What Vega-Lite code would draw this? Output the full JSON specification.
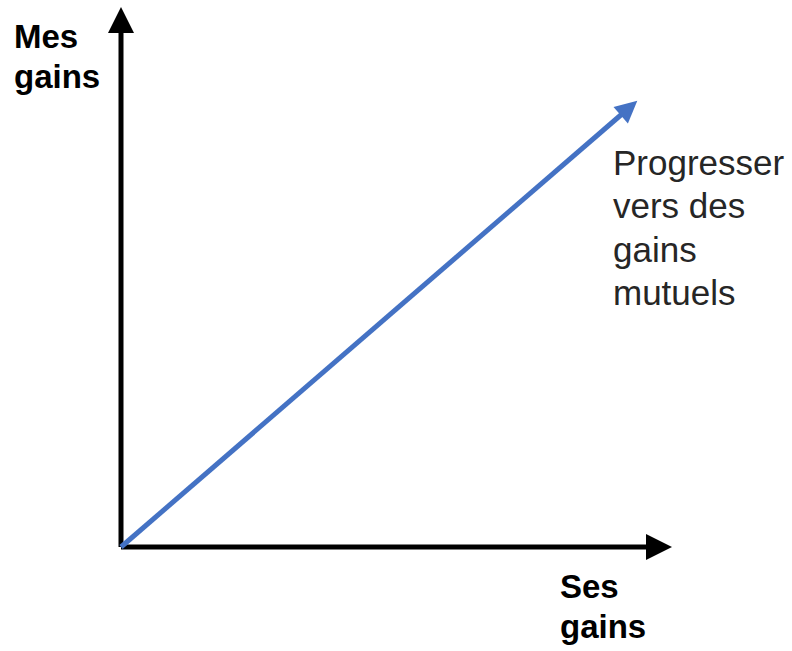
{
  "$schema": "https://vega.github.io/schema/vega-lite/v6.json",
  "width": 792,
  "height": 651,
  "padding": 0,
  "autosize": {"type": "fit", "contains": "padding"},
  "background": "white",
  "config": {"view": {"stroke": null}},
  "datasets": {
    "traits": [
      {"serie": "axe", "x": 0, "y": 0, "x2": 0, "y2": 516},
      {"serie": "axe", "x": 0, "y": 0, "x2": 527, "y2": 0},
      {"serie": "progression", "x": 0, "y": 0, "x2": 501, "y2": 433}
    ],
    "pointes": [
      {"serie": "axe", "x": 0, "y": 527, "angle": 0},
      {"serie": "axe", "x": 538, "y": 0, "angle": 90},
      {"serie": "progression", "x": 508, "y": 439, "angle": 49}
    ],
    "etiquettes": [
      {"texte": "Mes\ngains", "x": -107, "y": 499, "style": "gras"},
      {"texte": "Ses\ngains", "x": 439, "y": -51, "style": "gras"},
      {"texte": "Progresser\nvers des\ngains\nmutuels", "x": 492, "y": 372, "style": "normal"}
    ]
  },
  "layer": [
    {
      "data": {"name": "traits"},
      "mark": {"type": "rule", "strokeWidth": 5, "strokeCap": "butt"},
      "encoding": {
        "x": {"field": "x", "type": "quantitative", "scale": {"domain": [-121, 671], "nice": false, "zero": false}, "axis": null},
        "y": {"field": "y", "type": "quantitative", "scale": {"domain": [-104, 547], "nice": false, "zero": false}, "axis": null},
        "x2": {"field": "x2"},
        "y2": {"field": "y2"},
        "color": {"field": "serie", "type": "nominal", "scale": {"domain": ["axe", "progression"], "range": ["#000000", "#4472C4"]}, "legend": null}
      }
    },
    {
      "data": {"name": "pointes"},
      "transform": [{"filter": "datum.serie == 'axe'"}],
      "mark": {"type": "point", "shape": "M0,-1L1,1L-1,1Z", "filled": true, "opacity": 1, "size": 676},
      "encoding": {
        "x": {"field": "x", "type": "quantitative"},
        "y": {"field": "y", "type": "quantitative"},
        "angle": {"field": "angle", "type": "quantitative", "scale": null},
        "color": {"field": "serie", "type": "nominal", "legend": null}
      }
    },
    {
      "data": {"name": "pointes"},
      "transform": [{"filter": "datum.serie == 'progression'"}],
      "mark": {"type": "point", "shape": "M0,-1L1,1L-1,1Z", "filled": true, "opacity": 1, "size": 484},
      "encoding": {
        "x": {"field": "x", "type": "quantitative"},
        "y": {"field": "y", "type": "quantitative"},
        "angle": {"field": "angle", "type": "quantitative", "scale": null},
        "color": {"field": "serie", "type": "nominal", "legend": null}
      }
    },
    {
      "data": {"name": "etiquettes"},
      "transform": [{"filter": "datum.style == 'gras'"}],
      "mark": {"type": "text", "align": "left", "baseline": "alphabetic", "lineBreak": "\n", "lineHeight": 40, "font": "Liberation Sans", "fontSize": 33, "fontWeight": "bold", "color": "#000000"},
      "encoding": {
        "x": {"field": "x", "type": "quantitative"},
        "y": {"field": "y", "type": "quantitative"},
        "text": {"field": "texte", "type": "nominal"}
      }
    },
    {
      "data": {"name": "etiquettes"},
      "transform": [{"filter": "datum.style == 'normal'"}],
      "mark": {"type": "text", "align": "left", "baseline": "alphabetic", "lineBreak": "\n", "lineHeight": 43.3, "font": "Liberation Sans", "fontSize": 35, "color": "#262626"},
      "encoding": {
        "x": {"field": "x", "type": "quantitative"},
        "y": {"field": "y", "type": "quantitative"},
        "text": {"field": "texte", "type": "nominal"}
      }
    }
  ]
}
